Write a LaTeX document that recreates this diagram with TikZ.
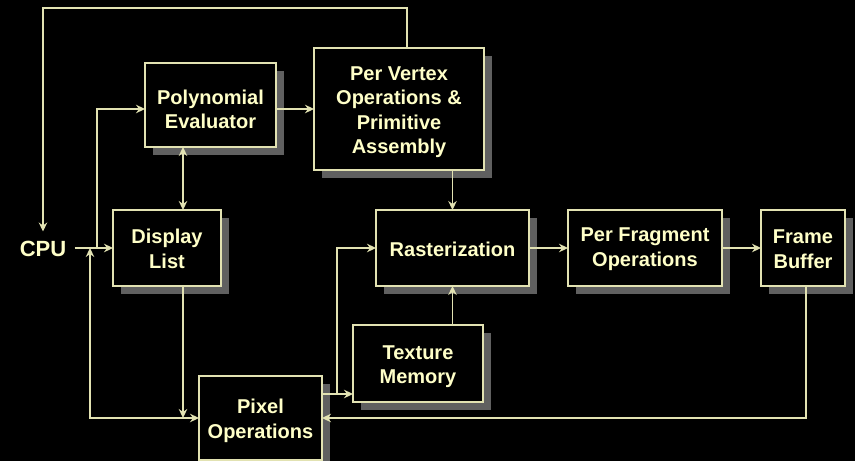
\documentclass[tikz,border=0pt]{standalone}
\usepackage{fontspec}
\setmainfont{Liberation Sans}
\usetikzlibrary{arrows.meta,shadows}
\definecolor{wire}{RGB}{226,226,178}
\definecolor{label}{RGB}{255,255,200}
\definecolor{shade}{RGB}{96,96,96}
\tikzset{
  stage/.style={draw=wire, line width=1.3pt, fill=black,
    inner sep=0pt, outer sep=0pt,
    drop shadow={shadow xshift=7.5pt, shadow yshift=-7.5pt, fill=shade, opacity=1}},
  caption/.style={text=label, font=\bfseries\fontsize{20}{24.5}\selectfont,
    align=center, inner sep=0pt},
  wirearrow/.style={draw=wire, line width=1.3pt,
    -{Stealth[length=9pt,width=8.5pt,inset=3pt]}},
  wirebi/.style={draw=wire, line width=1.3pt,
    {Stealth[length=9pt,width=8.5pt,inset=3pt]}-{Stealth[length=9pt,width=8.5pt,inset=3pt]}},
}
\begin{document}
\begin{tikzpicture}[x=1pt,y=-1pt]
  \fill[black] (0,0) rectangle (855,461);
  \useasboundingbox (0,0) rectangle (855,461);
  \clip (0,0) rectangle (855,461);

  % processing stages
  \node[stage, minimum width=131pt, minimum height=84pt] (poly) at (210.5,105) {};
  \node[stage, minimum width=170pt, minimum height=122pt] (pv) at (399,109) {};
  \node[stage, minimum width=108pt, minimum height=76pt] (dl) at (167,248) {};
  \node[stage, minimum width=123pt, minimum height=84pt] (px) at (260.5,418) {};
  \node[stage, minimum width=153pt, minimum height=76pt] (ras) at (452.5,248) {};
  \node[stage, minimum width=154pt, minimum height=76pt] (pf) at (645,248) {};
  \node[stage, minimum width=84pt, minimum height=76pt] (fb) at (803,248) {};
  \node[stage, minimum width=130pt, minimum height=77pt] (tex) at (418,363.5) {};

  % stage captions
  \node[caption] (polyT) at ([yshift=-4.5pt]poly.center) {Polynomial\\Evaluator};
  \node[caption] (pvT) at ([yshift=-3pt]pv.center) {Per Vertex\\Operations \&\\Primitive\\Assembly};
  \node[caption] (dlT) at ([yshift=-1pt]dl.center) {Display\\List};
  \node[caption] (pxT) at ([yshift=-3pt]px.center) {Pixel\\Operations};
  \node[caption] (rasT) at ([yshift=-1pt]ras.center) {Rasterization};
  \node[caption] (pfT) at ([yshift=-1pt]pf.center) {Per Fragment\\Operations};
  \node[caption] (fbT) at ([yshift=-1pt]fb.center) {Frame\\Buffer};
  \node[caption] (texT) at ([yshift=-3pt]tex.center) {Texture\\Memory};

  % host
  \node[text=label, font=\bfseries\fontsize{22}{26}\selectfont, inner sep=0pt,
        text height=16pt, text depth=0pt, outer sep=8.5pt] (cpu) at (43,248) {CPU};

  % routing points
  \coordinate (fbk1) at (407,8);
  \coordinate (fbk2) at (43,8);
  \coordinate (split) at (97,248);
  \coordinate (rowpoly) at (0,109);
  \coordinate (dlx) at (183,0);
  \coordinate (rdtop) at (90,248);
  \coordinate (rdbot) at (90,418);
  \coordinate (texrow) at (0,394);
  \coordinate (pxsplit) at (337,394);
  \coordinate (fbx) at (806,0);

  % feedback from geometry back to the host
  \draw[wirearrow] (pv.north -| fbk1) -- (fbk1) -- (fbk2) -- (cpu.north);

  % host outputs
  \draw[wirearrow] (cpu.east) -- (dl.west);
  \draw[wirearrow] (split) |- (poly.west |- rowpoly);
  \draw[wirebi] (rdtop) -- (rdbot) -- (px.west);

  % geometry path
  \draw[wirebi] (poly.south -| dlx) -- (dl.north -| dlx);
  \draw[wirearrow] (poly.east |- rowpoly) -- (pv.west |- rowpoly);
  \draw[wirearrow] (pv.south -| ras.north) -- (ras.north);

  % pixel path
  \draw[wirearrow] (dl.south -| dlx) -- (dlx |- px.west);
  \draw[wirearrow] (px.east |- texrow) -- (tex.west |- texrow);
  \draw[wirearrow] (pxsplit) |- (ras.west);
  \draw[wirearrow] (tex.north -| ras.south) -- (ras.south);

  % fragment path
  \draw[wirearrow] (ras.east) -- (pf.west);
  \draw[wirearrow] (pf.east) -- (fb.west);
  \draw[wirearrow] (fb.south -| fbx) |- (px.east);
\end{tikzpicture}
\end{document}
